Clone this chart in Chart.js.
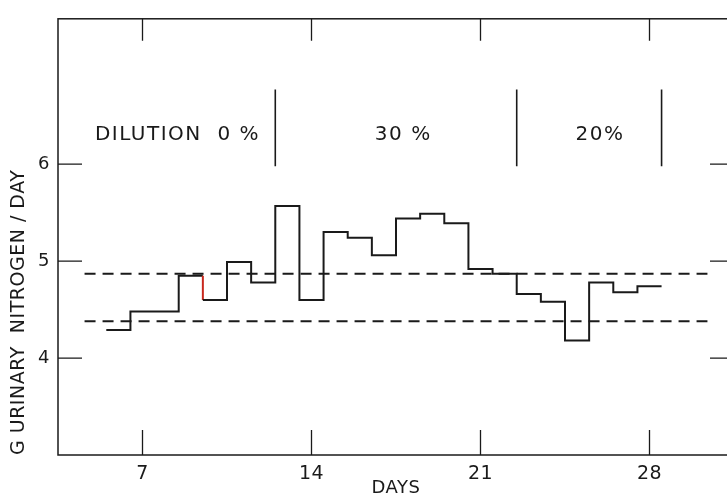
<!DOCTYPE html>
<html>
<head>
<meta charset="utf-8">
<script src="https://cdn.jsdelivr.net/npm/chart.js@4"></script>
<style>
  html, body { margin:0; padding:0; background:#fff; overflow:hidden; }
  #wrap { width:745px; height:499px; position:relative; }
</style>
</head>
<body>
<div id="wrap"><canvas id="nitrogenChart"></canvas></div>
<script>
// daily urinary nitrogen, one step per day
const days = [6,7,8,9,10,11,12,13,14,15,16,17,18,19,20,21,22,23,24,25,26,27,28];
const nitrogen = [4.29,4.48,4.48,4.85,4.60,4.99,4.78,5.57,4.60,5.30,5.24,5.06,5.44,5.49,5.39,4.92,4.87,4.66,4.58,4.18,4.78,4.68,4.74];

// dashed reference levels and their extent in days
const refLevels = [4.87, 4.38];
const refRange = [4.6, 30.4];

// dilution periods
const dilutionLabels = ["DILUTION  0 %", "30 %", "20%"];
const dilutionLabelX = [8.45, 17.8, 25.95];
const dilutionLabelY = 6.3;
const dividerX = [12.5, 22.5, 28.5];
const dividerY = [5.98, 6.77];

const xTicks = [7, 14, 21, 28];
const yTicks = [4, 5, 6];

const INK = "#1a1a1a";
const FONT = "'DejaVu Sans', sans-serif";

// build step outline from the daily values
const stepPts = [];
days.forEach((d, i) => {
  stepPts.push({ x:d - 0.5, y:nitrogen[i] });
  stepPts.push({ x:d + 0.5, y:nitrogen[i] });
});

const datasets = [{
  data:stepPts,
  borderColor:INK,
  borderWidth:2,
  pointRadius:0,
  tension:0,
  segment:{
    // the drop into day 10 shows red in the scan
    borderColor:c => (c.p0.parsed.x === 9.5 && c.p1.parsed.x === 9.5) ? "#c8281e" : INK
  }
}];

refLevels.forEach(v => {
  datasets.push({
    data:[{ x:refRange[0], y:v }, { x:refRange[1], y:v }],
    borderColor:INK,
    borderWidth:2,
    borderDash:[11, 7],
    pointRadius:0
  });
});

dividerX.forEach(x => {
  datasets.push({
    data:[{ x, y:dividerY[0] }, { x, y:dividerY[1] }],
    borderColor:INK,
    borderWidth:1.6,
    pointRadius:0
  });
});

const framePlugin = {
  id:"frame",
  beforeDraw(chart) {
    chart.ctx.letterSpacing = "0.5px";
  },
  afterDraw(chart) {
    const { ctx, chartArea:a, scales:{ x, y } } = chart;
    ctx.save();
    ctx.strokeStyle = INK;
    ctx.lineWidth = 1.5;
    ctx.strokeRect(a.left, a.top, a.right - a.left, a.bottom - a.top);

    ctx.lineWidth = 1.3;
    ctx.beginPath();
    xTicks.forEach(v => {
      const px = x.getPixelForValue(v);
      ctx.moveTo(px, a.bottom); ctx.lineTo(px, a.bottom - 25);
      ctx.moveTo(px, a.top); ctx.lineTo(px, a.top + 22);
    });
    yTicks.forEach(v => {
      const py = y.getPixelForValue(v);
      ctx.moveTo(a.left, py); ctx.lineTo(a.left + 24, py);
      ctx.moveTo(a.right, py); ctx.lineTo(a.right - 24, py);
    });
    ctx.stroke();

    ctx.fillStyle = INK;
    ctx.font = "20px " + FONT;
    ctx.letterSpacing = "1.5px";
    ctx.textAlign = "center";
    ctx.textBaseline = "middle";
    dilutionLabels.forEach((t, i) => {
      ctx.fillText(t, x.getPixelForValue(dilutionLabelX[i]), y.getPixelForValue(dilutionLabelY));
    });
    ctx.restore();
  }
};

new Chart(document.getElementById("nitrogenChart"), {
  type:"line",
  data:{ datasets },
  options:{
    responsive:true,
    maintainAspectRatio:false,
    animation:false,
    layout:{ padding:{ top:15, right:11, left:0, bottom:0 } },
    plugins:{ legend:{ display:false }, tooltip:{ enabled:false } },
    scales:{
      x:{
        type:"linear",
        min:3.5,
        max:31.5,
        afterBuildTicks:s => { s.ticks = xTicks.map(v => ({ value:v })); },
        afterFit:s => { s.height = 44; },
        grid:{ display:false, drawTicks:false },
        border:{ display:false },
        ticks:{ color:INK, padding:8, font:{ family:FONT, size:19 } },
        title:{
          display:true,
          text:"DAYS",
          color:INK,
          padding:{ top:0, bottom:0 },
          font:{ family:FONT, size:18 }
        }
      },
      y:{
        min:3,
        max:7.5,
        afterBuildTicks:s => { s.ticks = yTicks.map(v => ({ value:v })); },
        afterFit:s => { s.width = 58; },
        grid:{ display:false, drawTicks:false },
        border:{ display:false },
        ticks:{ color:INK, padding:8, font:{ family:FONT, size:18 } },
        title:{
          display:true,
          text:"G URINARY  NITROGEN / DAY",
          align:"start",
          color:INK,
          padding:{ top:8, bottom:0 },
          font:{ family:FONT, size:19 }
        }
      }
    }
  },
  plugins:[framePlugin]
});
</script>
</body>
</html>
